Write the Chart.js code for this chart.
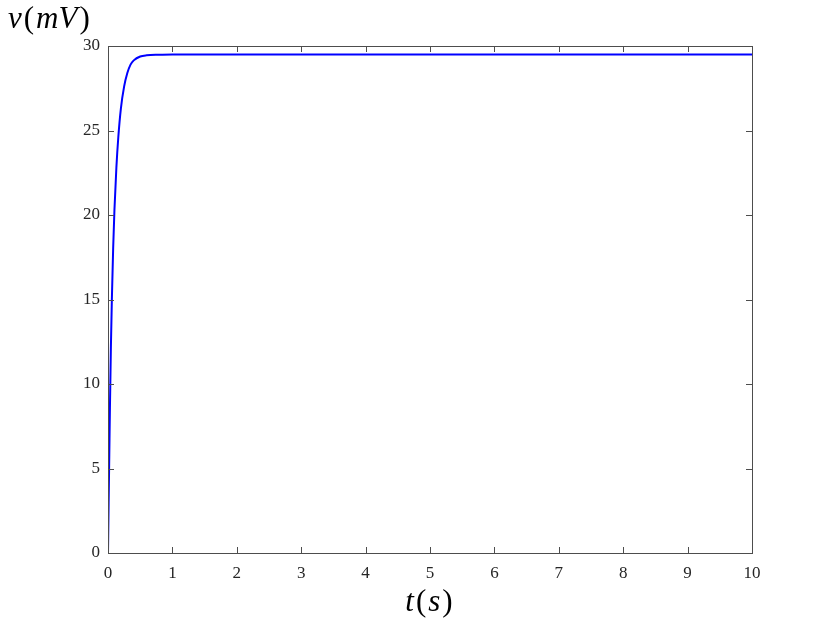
<!DOCTYPE html>
<html>
<head>
<meta charset="utf-8">
<script src="https://cdn.jsdelivr.net/npm/chart.js@4.4.1/dist/chart.umd.min.js"></script>
<style>
  html, body { margin: 0; padding: 0; background: #fff; }
  #wrap { width: 830px; height: 623px; }
</style>
</head>
<body>
<div id="wrap"><canvas id="chart" width="830" height="623"></canvas></div>
<script>
// values
const timeS = [0, 0.01, 0.02, 0.03, 0.045, 0.06, 0.08, 0.1, 0.13, 0.16, 0.2, 0.25, 0.3, 0.35, 0.4, 0.5, 0.6, 0.8, 1, 2, 3, 4, 5, 6, 7, 8, 9, 10];
const voltageMV = [0, 3.0, 5.8, 8.6, 12.2, 15.0, 18.0, 20.3, 22.8, 24.6, 26.3, 27.6, 28.4, 28.9, 29.15, 29.38, 29.45, 29.48, 29.5, 29.5, 29.5, 29.5, 29.5, 29.5, 29.5, 29.5, 29.5, 29.5];
const xTicks = [0, 1, 2, 3, 4, 5, 6, 7, 8, 9, 10];
const yTicks = [0, 5, 10, 15, 20, 25, 30];

const serif = '"Liberation Serif", "DejaVu Serif", serif';
const axisColor = '#4d4d4d';

// MATLAB style box with inward ticks plus the math style axis titles
const boxPlugin = {
  id: 'box',
  afterDatasetsDraw(chart) {
    const { ctx, chartArea: a, scales } = chart;
    ctx.save();
    ctx.strokeStyle = axisColor;
    ctx.lineWidth = 1;
    ctx.strokeRect(a.left + 0.5, a.top + 0.5, a.right - a.left, a.bottom - a.top);
    const len = 6;
    ctx.beginPath();
    xTicks.forEach(v => {
      const x = Math.round(scales.x.getPixelForValue(v)) + 0.5;
      ctx.moveTo(x, a.bottom); ctx.lineTo(x, a.bottom - len);
      ctx.moveTo(x, a.top); ctx.lineTo(x, a.top + len);
    });
    yTicks.forEach(v => {
      const y = Math.round(scales.y.getPixelForValue(v)) + 0.5;
      ctx.moveTo(a.left, y); ctx.lineTo(a.left + len, y);
      ctx.moveTo(a.right, y); ctx.lineTo(a.right - len, y);
    });
    ctx.stroke();

    // axis titles, italic letters and upright brackets
    const drawMath = (parts, x, y, align) => {
      ctx.fillStyle = '#000';
      ctx.textBaseline = 'alphabetic';
      const gap = 2;
      let total = 0;
      parts.forEach(p => {
        ctx.font = (p[1] ? 'italic ' : '') + '31px ' + serif;
        total += ctx.measureText(p[0]).width + gap;
      });
      let cx = align === 'center' ? x - total / 2 : x;
      ctx.textAlign = 'left';
      parts.forEach(p => {
        ctx.font = (p[1] ? 'italic ' : '') + '31px ' + serif;
        ctx.fillText(p[0], cx, y);
        cx += ctx.measureText(p[0]).width + gap;
      });
    };
    drawMath([['v', true], ['(', false], ['mV', true], [')', false]], 8, 28, 'left');
    drawMath([['t', true], ['(', false], ['s', true], [')', false]], (a.left + a.right) / 2, 611, 'center');
    ctx.restore();
  }
};

new Chart(document.getElementById('chart'), {
  type: 'line',
  data: {
    datasets: [{
      data: timeS.map((t, i) => ({ x: t, y: voltageMV[i] })),
      borderColor: '#0000ff',
      borderWidth: 2,
      pointRadius: 0,
      fill: false,
      cubicInterpolationMode: 'monotone'
    }]
  },
  options: {
    responsive: false,
    animation: false,
    layout: { padding: { left: 0, right: 78, top: 46, bottom: 0 } },
    plugins: { legend: { display: false }, tooltip: { enabled: false } },
    scales: {
      x: {
        type: 'linear',
        min: 0, max: 10,
        afterBuildTicks: s => { s.ticks = xTicks.map(v => ({ value: v })); },
        afterFit: s => { s.height = 70; },
        grid: { display: false, drawTicks: false },
        border: { display: false },
        ticks: { color: '#262626', font: { family: serif, size: 17 }, padding: 10, maxRotation: 0 }
      },
      y: {
        type: 'linear',
        min: 0, max: 30,
        afterBuildTicks: s => { s.ticks = yTicks.map(v => ({ value: v })); },
        afterFit: s => { s.width = 108; },
        grid: { display: false, drawTicks: false },
        border: { display: false },
        ticks: { color: '#262626', font: { family: serif, size: 17 }, padding: 8 }
      }
    }
  },
  plugins: [boxPlugin]
});
</script>
</body>
</html>
